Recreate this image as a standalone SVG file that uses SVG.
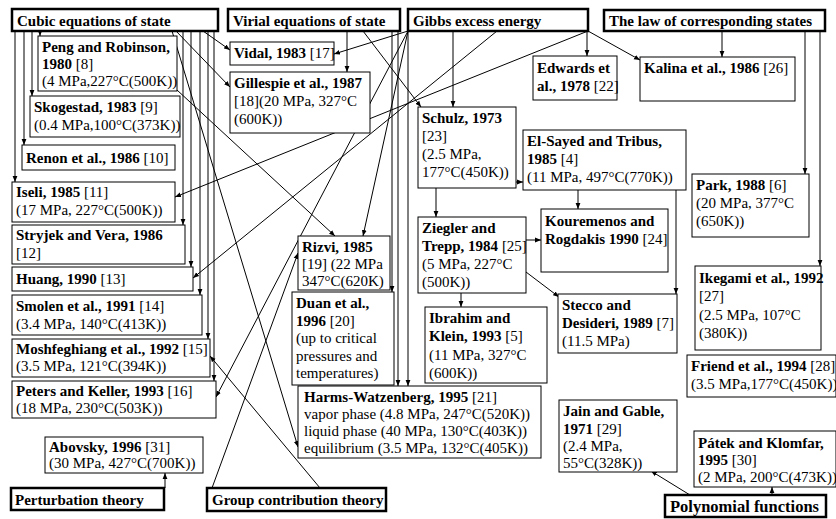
<svg xmlns="http://www.w3.org/2000/svg" width="836" height="519" viewBox="0 0 836 519">
<style>
text{font-family:"Liberation Serif","Times New Roman",serif;font-size:15px;fill:#000}
.b{font-weight:bold}
.hb{fill:#fff;stroke:#000;stroke-width:2.5}
.nb{fill:#fff;stroke:#000;stroke-width:1}
#connectors line{stroke:#000;stroke-width:1;fill:none;marker-end:url(#ah)}
</style>
<defs>
<marker id="ah" viewBox="0 0 10 10" refX="10" refY="5" markerWidth="6" markerHeight="6" orient="auto" markerUnits="userSpaceOnUse"><path d="M0,1 L10,5 L0,9 z" fill="#000"/></marker>
</defs>
<rect width="836" height="519" fill="#fff"/>
<g id="connectors">
<line x1="40" y1="31" x2="40" y2="36"/>
<line x1="32" y1="31" x2="32" y2="96"/>
<line x1="24" y1="31" x2="24" y2="145"/>
<line x1="15" y1="31" x2="15" y2="182"/>
<line x1="183" y1="31" x2="183" y2="225"/>
<line x1="191" y1="31" x2="191" y2="267"/>
<line x1="200" y1="31" x2="200" y2="295"/>
<line x1="208" y1="31" x2="208" y2="339"/>
<line x1="214" y1="31" x2="214" y2="381"/>
<line x1="203" y1="31" x2="230" y2="50"/>
<line x1="176" y1="31" x2="230" y2="87"/>
<line x1="172" y1="31" x2="298" y2="447"/>
<line x1="177" y1="90" x2="335" y2="236"/>
<line x1="347" y1="31" x2="347" y2="72"/>
<line x1="363" y1="31" x2="421" y2="107"/>
<line x1="392" y1="31" x2="392" y2="292"/>
<line x1="398" y1="31" x2="398" y2="386"/>
<line x1="408" y1="31" x2="408" y2="386"/>
<line x1="408" y1="31" x2="334" y2="54"/>
<line x1="408" y1="31" x2="363" y2="236"/>
<line x1="408" y1="31" x2="216" y2="397"/>
<line x1="453" y1="31" x2="453" y2="107"/>
<line x1="497" y1="31" x2="193" y2="278"/>
<line x1="587" y1="31" x2="587" y2="56"/>
<line x1="588" y1="31" x2="640" y2="60"/>
<line x1="588" y1="31" x2="175" y2="197"/>
<line x1="722" y1="31" x2="722" y2="57"/>
<line x1="805" y1="31" x2="805" y2="174"/>
<line x1="820" y1="31" x2="820" y2="266"/>
<line x1="516" y1="182" x2="523" y2="182"/>
<line x1="436" y1="188" x2="436" y2="217"/>
<line x1="578" y1="190" x2="578" y2="209"/>
<line x1="526" y1="240" x2="541" y2="240"/>
<line x1="461" y1="293" x2="461" y2="307"/>
<line x1="526" y1="272" x2="559" y2="297"/>
<line x1="676" y1="190" x2="676" y2="294"/>
<line x1="165" y1="488" x2="165" y2="473"/>
<line x1="212" y1="488" x2="298" y2="253"/>
<line x1="320" y1="488" x2="210" y2="356"/>
<line x1="690" y1="495" x2="651" y2="471"/>
<line x1="772" y1="495" x2="772" y2="487"/>
</g>
<g id="h-cubic"><rect class="hb" x="12" y="9" width="206" height="22"/><text class="b" x="17" y="26">Cubic equations of state</text></g>
<g id="h-virial"><rect class="hb" x="228" y="9" width="172" height="22"/><text class="b" x="233" y="26">Virial equations of state</text></g>
<g id="h-gibbs"><rect class="hb" x="408" y="9" width="180" height="22"/><text class="b" x="413" y="26">Gibbs excess energy</text></g>
<g id="h-corr"><rect class="hb" x="604" y="10" width="221" height="21"/><text class="b" x="609" y="26">The law of corresponding states</text></g>
<g id="h-pert"><rect class="hb" x="11" y="488" width="153" height="22"/><text class="b" x="15" y="505">Perturbation theory</text></g>
<g id="h-group"><rect class="hb" x="207" y="488" width="179" height="23"/><text class="b" x="212" y="505">Group contribution theory</text></g>
<g id="h-poly"><rect class="hb" x="665" y="495" width="161" height="22"/><text class="b" x="670" y="512" style="font-size:16.5px">Polynomial functions</text></g>
<g id="n-peng"><rect class="nb" x="38" y="36" width="139" height="55"/><text class="b" x="42" y="52">Peng and Robinson,</text><text x="42" y="69"><tspan class="b">1980</tspan> [8]</text><text x="42" y="86">(4 MPa,227°C(500K))</text></g>
<g id="n-skog"><rect class="nb" x="30" y="96" width="150" height="41"/><text x="34" y="112"><tspan class="b">Skogestad, 1983</tspan> [9]</text><text x="34" y="130">(0.4 MPa,100°C(373K))</text></g>
<g id="n-renon"><rect class="nb" x="22" y="145" width="153" height="25"/><text x="26" y="163"><tspan class="b">Renon et al., 1986</tspan> [10]</text></g>
<g id="n-iseli"><rect class="nb" x="12" y="182" width="163" height="40"/><text x="16" y="197"><tspan class="b">Iseli, 1985</tspan> [11]</text><text x="16" y="215">(17 MPa, 227°C(500K))</text></g>
<g id="n-stryjek"><rect class="nb" x="12" y="225" width="173" height="39"/><text class="b" x="16" y="240">Stryjek and Vera, 1986</text><text x="16" y="258">[12]</text></g>
<g id="n-huang"><rect class="nb" x="12" y="267" width="181" height="24"/><text x="16" y="284"><tspan class="b">Huang, 1990</tspan> [13]</text></g>
<g id="n-smolen"><rect class="nb" x="12" y="295" width="190" height="40"/><text x="16" y="311"><tspan class="b">Smolen et al., 1991</tspan> [14]</text><text x="16" y="329">(3.4 MPa, 140°C(413K))</text></g>
<g id="n-mosh"><rect class="nb" x="12" y="339" width="198" height="38"/><text x="16" y="354"><tspan class="b">Moshfeghiang et al., 1992</tspan> [15]</text><text x="16" y="371">(3.5 MPa, 121°C(394K))</text></g>
<g id="n-peters"><rect class="nb" x="12" y="381" width="204" height="37"/><text x="16" y="396"><tspan class="b">Peters and Keller, 1993</tspan> [16]</text><text x="16" y="413">(18 MPa, 230°C(503K))</text></g>
<g id="n-abovsky"><rect class="nb" x="45" y="437" width="158" height="36"/><text x="49" y="452"><tspan class="b">Abovsky, 1996</tspan> [31]</text><text x="49" y="468">(30 MPa, 427°C(700K))</text></g>
<g id="n-vidal"><rect class="nb" x="230" y="42" width="104" height="23"/><text x="234" y="58"><tspan class="b">Vidal, 1983</tspan> [17]</text></g>
<g id="n-gillespie"><rect class="nb" x="230" y="72" width="140" height="61"/><text class="b" x="234" y="88">Gillespie et al., 1987</text><text x="234" y="106">[18](20 MPa, 327°C</text><text x="234" y="124">(600K))</text></g>
<g id="n-rizvi"><rect class="nb" x="298" y="236" width="92" height="54"/><text class="b" x="302" y="252">Rizvi, 1985</text><text x="302" y="269">[19] (22 MPa</text><text x="302" y="286">347°C(620K)</text></g>
<g id="n-duan"><rect class="nb" x="292" y="292" width="102" height="93"/><text class="b" x="296" y="308">Duan et al.,</text><text x="296" y="326"><tspan class="b">1996</tspan> [20]</text><text x="296" y="343">(up to critical</text><text x="296" y="361">pressures and</text><text x="296" y="378">temperatures)</text></g>
<g id="n-harms"><rect class="nb" x="298" y="386" width="243" height="72"/><text x="304" y="402"><tspan class="b">Harms-Watzenberg, 1995</tspan> [21]</text><text x="304" y="419">vapor phase (4.8 MPa, 247°C(520K))</text><text x="304" y="436">liquid phase (40 MPa, 130°C(403K))</text><text x="304" y="453">equilibrium (3.5 MPa, 132°C(405K))</text></g>
<g id="n-edwards"><rect class="nb" x="533" y="56" width="84" height="44"/><text class="b" x="537" y="73">Edwards et</text><text x="537" y="91"><tspan class="b">al., 1978</tspan> [22]</text></g>
<g id="n-kalina"><rect class="nb" x="640" y="57" width="155" height="44"/><text x="644" y="73"><tspan class="b">Kalina et al., 1986</tspan> [26]</text></g>
<g id="n-schulz"><rect class="nb" x="418" y="107" width="98" height="81"/><text class="b" x="422" y="123">Schulz, 1973</text><text x="422" y="141">[23]</text><text x="422" y="159">(2.5 MPa,</text><text x="422" y="177">177°C(450K))</text></g>
<g id="n-elsayed"><rect class="nb" x="523" y="130" width="163" height="60"/><text class="b" x="527" y="146">El-Sayed and Tribus,</text><text x="527" y="164"><tspan class="b">1985</tspan> [4]</text><text x="527" y="182">(11 MPa, 497°C(770K))</text></g>
<g id="n-park"><rect class="nb" x="692" y="174" width="117" height="63"/><text x="696" y="190"><tspan class="b">Park, 1988</tspan> [6]</text><text x="696" y="208">(20 MPa, 377°C</text><text x="696" y="226">(650K))</text></g>
<g id="n-ziegler"><rect class="nb" x="418" y="217" width="108" height="76"/><text class="b" x="422" y="233">Ziegler and</text><text x="422" y="251"><tspan class="b">Trepp, 1984</tspan> [25]</text><text x="422" y="269">(5 MPa, 227°C</text><text x="422" y="287">(500K))</text></g>
<g id="n-kour"><rect class="nb" x="541" y="209" width="127" height="63"/><text class="b" x="545" y="226">Kouremenos and</text><text x="545" y="244"><tspan class="b">Rogdakis 1990</tspan> [24]</text></g>
<g id="n-ibrahim"><rect class="nb" x="425" y="307" width="122" height="76"/><text class="b" x="429" y="323">Ibrahim and</text><text x="429" y="341"><tspan class="b">Klein, 1993</tspan> [5]</text><text x="429" y="360">(11 MPa, 327°C</text><text x="429" y="378">(600K))</text></g>
<g id="n-stecco"><rect class="nb" x="558" y="294" width="119" height="59"/><text class="b" x="562" y="310">Stecco and</text><text x="562" y="328"><tspan class="b">Desideri, 1989</tspan> [7]</text><text x="562" y="346">(11.5 MPa)</text></g>
<g id="n-ikegami"><rect class="nb" x="695" y="266" width="126" height="84"/><text class="b" x="699" y="283">Ikegami et al., 1992</text><text x="699" y="301">[27]</text><text x="699" y="320">(2.5 MPa, 107°C</text><text x="699" y="338">(380K))</text></g>
<g id="n-friend"><rect class="nb" x="687" y="355" width="149" height="42"/><text x="691" y="371"><tspan class="b">Friend et al., 1994</tspan> [28]</text><text x="691" y="389">(3.5 MPa,177°C(450K))</text></g>
<g id="n-jain"><rect class="nb" x="559" y="400" width="118" height="72"/><text class="b" x="563" y="416">Jain and Gable,</text><text x="563" y="434"><tspan class="b">1971</tspan> [29]</text><text x="563" y="451">(2.4 MPa,</text><text x="563" y="468">55°C(328K))</text></g>
<g id="n-patek"><rect class="nb" x="694" y="431" width="142" height="56"/><text class="b" x="698" y="448">Pátek and Klomfar,</text><text x="698" y="465"><tspan class="b">1995</tspan> [30]</text><text x="698" y="482">(2 MPa, 200°C(473K))</text></g>
</svg>
